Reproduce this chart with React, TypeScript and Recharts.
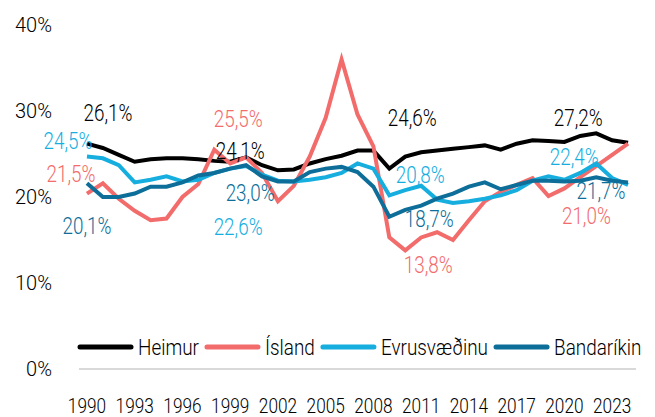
import React from 'react';
import {
  LineChart, Line, XAxis, YAxis, LabelList,
} from 'recharts';

const years = [
  1990, 1991, 1992, 1993, 1994, 1995, 1996, 1997, 1998, 1999,
  2000, 2001, 2002, 2003, 2004, 2005, 2006, 2007, 2008, 2009,
  2010, 2011, 2012, 2013, 2014, 2015, 2016, 2017, 2018, 2019,
  2020, 2021, 2022, 2023, 2024,
];

const heimur = [
  26.2, 25.7, 24.9, 24.1, 24.4, 24.5, 24.5, 24.4, 24.2, 24.1,
  24.6, 23.7, 23.1, 23.2, 23.9, 24.4, 24.8, 25.4, 25.4, 23.3,
  24.7, 25.2, 25.4, 25.6, 25.8, 26.0, 25.5, 26.2, 26.6, 26.5,
  26.4, 27.1, 27.4, 26.6, 26.3,
];

const island = [
  20.4, 21.6, 19.8, 18.4, 17.3, 17.5, 20.0, 21.5, 25.5, 23.9,
  24.6, 22.8, 19.5, 21.3, 24.7, 29.2, 36.0, 29.6, 25.9, 15.3,
  13.8, 15.3, 15.9, 15.0, 17.3, 19.5, 20.6, 21.4, 22.2, 20.1,
  21.0, 22.3, 23.6, 24.9, 26.2,
];

const evru = [
  24.7, 24.5, 23.7, 21.7, 22.0, 22.4, 21.8, 22.0, 22.8, 23.3,
  23.6, 22.6, 21.9, 21.8, 22.0, 22.3, 22.8, 23.9, 23.3, 20.2,
  20.8, 21.3, 19.7, 19.3, 19.5, 19.8, 20.2, 20.8, 21.9, 22.4,
  22.0, 22.8, 23.9, 22.2, 21.4,
];

const banda = [
  21.6, 20.0, 20.0, 20.4, 21.2, 21.2, 21.7, 22.5, 22.8, 23.3,
  23.7, 22.4, 21.8, 21.8, 22.9, 23.3, 23.5, 22.9, 21.2, 17.7,
  18.5, 19.0, 19.8, 20.4, 21.2, 21.7, 20.9, 21.4, 21.9, 21.9,
  21.8, 21.9, 22.3, 21.9, 21.7,
];

const xTicks = [1990, 1993, 1996, 1999, 2002, 2005, 2008, 2011, 2014, 2017, 2020, 2023];
const yTicks = [0, 10, 20, 30, 40];

// labelled points: series key -> { year: text }
const labelTexts: Record<string, Record<number, string>> = {
  heimur: { 1990: '26,1%', 1999: '24,1%', 2010: '24,6%', 2022: '27,2%' },
  island: { 1990: '21,5%', 1998: '25,5%', 2010: '13,8%', 2020: '21,0%' },
  evru: { 1990: '24,5%', 2000: '22,6%', 2010: '20,8%', 2021: '22,4%' },
  banda: { 1990: '20,1%', 2000: '23,0%', 2010: '18,7%', 2024: '21,7%' },
};

// label centre offsets from the point
const labelOffsets: Record<string, Record<number, [number, number]>> = {
  heimur: { 1990: [21, -31], 1999: [10, -11], 2010: [7, -39], 2022: [-18, -16] },
  island: { 1990: [-16, -20], 1998: [24, -31], 2010: [23, 14], 2020: [22, 27] },
  evru: { 1990: [-19, -16], 2000: [-8, 61], 2010: [15, -15], 2021: [-6, -16] },
  banda: { 1990: [0, 42], 2000: [4, 28], 2010: [24, 9], 2024: [-27, 8] },
};

const series = [
  { key: 'heimur', name: 'Heimur', color: '#000000' },
  { key: 'island', name: 'Ísland', color: '#F36C6C' },
  { key: 'evru', name: 'Evrusvæðinu', color: '#16AEDF' },
  { key: 'banda', name: 'Bandaríkin', color: '#0D6E99' },
];

const data = years.map((year, i) => ({
  year,
  heimur: heimur[i],
  island: island[i],
  evru: evru[i],
  banda: banda[i],
}));

const FONT = "Roboto, 'Liberation Sans', sans-serif";
const WEIGHT = 300;
const SQUEEZE = 0.82; // fake a condensed face

let ctx: CanvasRenderingContext2D | null = null;
function textWidth(text: string, size: number) {
  if (!ctx) ctx = document.createElement('canvas').getContext('2d');
  if (!ctx) return text.length * size * 0.5;
  ctx.font = `${WEIGHT} ${size}px ${FONT}`;
  return ctx.measureText(text).width;
}

function NarrowText({ x, y, text, size, color, anchor = 'middle', dy = '0.36em', squeeze = SQUEEZE }: any) {
  return (
    <text
      transform={`translate(${x},${y}) scale(${squeeze},1)`}
      x={0}
      y={0}
      dy={dy}
      textAnchor={anchor}
      fill={color}
      fontSize={size}
      fontWeight={WEIGHT}
      fontFamily={FONT}
    >
      {text}
    </text>
  );
}

function makeLabel(key: string, color: string) {
  return (props: any) => {
    const { x, y, index } = props;
    const year = years[index];
    const text = labelTexts[key][year];
    if (!text) return null;
    const [dx, dy] = labelOffsets[key][year];
    return <NarrowText x={x + dx} y={y + dy} text={text} size={23} color={color} />;
  };
}

function XTick(props: any) {
  const { x, y, payload } = props;
  return <NarrowText x={x} y={y} text={String(payload.value)} size={21} color="#000" dy="0.71em" />;
}

function ChartLegend() {
  const size = 22;
  const squeeze = 0.86;
  const lineW = 55;
  let cx = 78;
  const items = series.map((s) => {
    const x0 = cx;
    const tx = x0 + lineW + 5;
    const tw = textWidth(s.name, size) * squeeze;
    cx = tx + tw + 6;
    return (
      <g key={s.key}>
        <line x1={x0 + 2} x2={x0 + lineW - 2} y1={347} y2={347} stroke={s.color} strokeWidth={5} strokeLinecap="round" />
        <NarrowText x={tx} y={347} text={s.name} size={size} color="#000" anchor="start" squeeze={squeeze} />
      </g>
    );
  });
  return (
    <svg width={655} height={417} style={{ position: 'absolute', left: 0, top: 0, pointerEvents: 'none' }}>
      {items}
    </svg>
  );
}

export default function App() {
  return (
    <div style={{ position: 'absolute', left: 0, top: 0, width: 655, height: 417, background: '#fff' }}>
      <LineChart
        width={655}
        height={417}
        data={data}
        margin={{ top: 25, right: 19, bottom: 0, left: 0 }}
      >
        <XAxis
          dataKey="year"
          type="number"
          domain={[1989.5, 2024.5]}
          ticks={xTicks}
          interval={0}
          height={48}
          tickLine={false}
          tickSize={0}
          tickMargin={29}
          axisLine={{ stroke: '#d9d9d9', strokeWidth: 2 }}
          tick={<XTick />}
        />
        <YAxis
          type="number"
          domain={[0, 40]}
          ticks={yTicks}
          width={79}
          tickLine={false}
          tickSize={0}
          tickMargin={27}
          axisLine={false}
          tickFormatter={(v) => `${v}%`}
          tick={{ fill: '#000', fontSize: 20, fontWeight: WEIGHT, fontFamily: FONT }}
        />
        {series.map((s) => (
          <Line
            key={s.key}
            type="linear"
            dataKey={s.key}
            name={s.name}
            stroke={s.color}
            strokeWidth={4}
            dot={false}
            activeDot={false}
            isAnimationActive={false}
          >
            <LabelList dataKey={s.key} content={makeLabel(s.key, s.color)} />
          </Line>
        ))}
      </LineChart>
      <ChartLegend />
    </div>
  );
}
